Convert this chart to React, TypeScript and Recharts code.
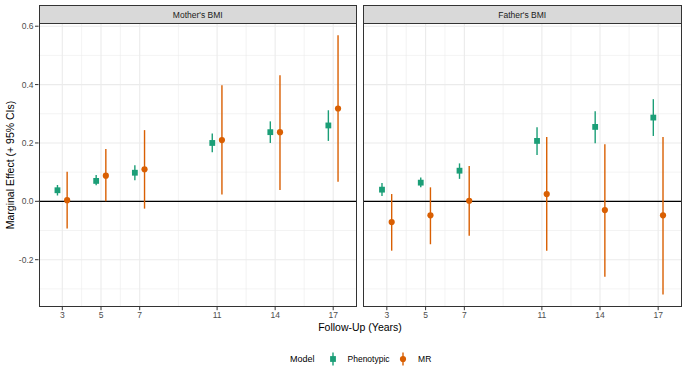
import React from 'react';
import { ScatterChart, Scatter, XAxis, YAxis, CartesianGrid, ReferenceLine, ErrorBar } from 'recharts';

const years = [3, 5, 7, 11, 14, 17];
const motherPhenoEst = [0.038, 0.070, 0.098, 0.200, 0.237, 0.260];
const motherPhenoLow = [0.020, 0.055, 0.072, 0.168, 0.200, 0.207];
const motherPhenoHigh = [0.056, 0.090, 0.124, 0.232, 0.274, 0.312];
const motherMREst = [0.004, 0.088, 0.110, 0.210, 0.237, 0.318];
const motherMRLow = [-0.093, 0.000, -0.025, 0.023, 0.039, 0.067];
const motherMRHigh = [0.101, 0.179, 0.244, 0.398, 0.432, 0.569];
const fatherPhenoEst = [0.040, 0.064, 0.105, 0.207, 0.255, 0.287];
const fatherPhenoLow = [0.018, 0.048, 0.077, 0.159, 0.199, 0.224];
const fatherPhenoHigh = [0.063, 0.082, 0.130, 0.254, 0.309, 0.350];
const fatherMREst = [-0.071, -0.048, 0.002, 0.025, -0.030, -0.048];
const fatherMRLow = [-0.169, -0.147, -0.118, -0.169, -0.258, -0.319];
const fatherMRHigh = [0.025, 0.048, 0.121, 0.220, 0.196, 0.220];

const facets = ["Mother's BMI", "Father's BMI"];
const models = ['Phenotypic', 'MR'];
const yTicks = [-0.2, 0, 0.2, 0.4, 0.6];
const yMinor = [-0.3, -0.1, 0.1, 0.3, 0.5];
const xMinor = [4, 6, 9, 12.5, 15.5];

const GREEN = '#1B9E77';
const ORANGE = '#D95F02';
const FONT = '"Liberation Sans", Arial, Helvetica, sans-serif';
const DODGE = 0.25;
const X_DOMAIN: [number, number] = [1.77, 18.23];
const Y_DOMAIN: [number, number] = [-0.361, 0.611];

function build(est: number[], low: number[], high: number[], offset: number) {
  return years.map((yr, i) => ({
    x: yr + offset,
    y: est[i],
    err: [est[i] - low[i], high[i] - est[i]],
  }));
}

const panels = [
  {
    title: facets[0],
    pheno: build(motherPhenoEst, motherPhenoLow, motherPhenoHigh, -DODGE),
    mr: build(motherMREst, motherMRLow, motherMRHigh, DODGE),
  },
  {
    title: facets[1],
    pheno: build(fatherPhenoEst, fatherPhenoLow, fatherPhenoHigh, -DODGE),
    mr: build(fatherMREst, fatherMRLow, fatherMRHigh, DODGE),
  },
];

const SQ = 5.8;
const R = 3.1;

const Square = (props: any) => {
  const { cx, cy } = props;
  if (cx == null || cy == null) return null;
  return <rect x={cx - SQ / 2} y={cy - SQ / 2} width={SQ} height={SQ} fill={GREEN} />;
};
const Dot = (props: any) => {
  const { cx, cy } = props;
  if (cx == null || cy == null) return null;
  return <circle cx={cx} cy={cy} r={R} fill={ORANGE} />;
};

const PLOT_TOP = 23;
const PLOT_BOTTOM = 306.7;
const CHART_H = 330;
const XAXIS_H = CHART_H - PLOT_BOTTOM;

const layout = [
  { left: 0, width: 357, plotLeft: 38.5, showY: true },
  { left: 362.7, width: 319, plotLeft: 362.7, showY: false },
];

function Panel({ idx }: { idx: number }) {
  const p = panels[idx];
  const l = layout[idx];
  return (
    <div style={{ position: 'absolute', left: l.left, top: 0 }}>
      <ScatterChart width={l.width} height={CHART_H} margin={{ top: PLOT_TOP, right: 0, bottom: 0, left: 0 }}>
        <CartesianGrid stroke="#EBEBEB" strokeWidth={0.6} horizontalValues={yMinor} verticalValues={xMinor} />
        <CartesianGrid stroke="#EBEBEB" strokeWidth={1.1} horizontalValues={yTicks} verticalValues={years} />
        <XAxis
          type="number"
          dataKey="x"
          domain={X_DOMAIN}
          ticks={years}
          allowDataOverflow
          axisLine={false}
          tickSize={3.5}
          tickMargin={1.5}
          height={XAXIS_H}
          tickLine={{ stroke: '#333333' }}
          tick={{ fontSize: 8.5, fill: '#4D4D4D', fontFamily: FONT }}
          interval={0}
        />
        <YAxis
          type="number"
          dataKey="y"
          domain={Y_DOMAIN}
          ticks={yTicks}
          allowDataOverflow
          hide={!l.showY}
          width={38.5}
          axisLine={false}
          tickSize={3.5}
          tickMargin={1.5}
          tickLine={{ stroke: '#333333' }}
          tick={{ fontSize: 8.5, fill: '#4D4D4D', fontFamily: FONT }}
          tickFormatter={(v: number) => v.toFixed(1)}
          interval={0}
        />
        <ReferenceLine y={0} stroke="#000000" strokeWidth={1.1} />
        <Scatter data={p.pheno} shape={Square} isAnimationActive={false} name={models[0]}>
          <ErrorBar dataKey="err" direction="y" width={0} stroke={GREEN} strokeWidth={1.4} />
        </Scatter>
        <Scatter data={p.mr} shape={Dot} isAnimationActive={false} name={models[1]}>
          <ErrorBar dataKey="err" direction="y" width={0} stroke={ORANGE} strokeWidth={1.4} />
        </Scatter>
      </ScatterChart>
      <div
        style={{
          position: 'absolute',
          left: l.plotLeft - l.left,
          top: PLOT_TOP,
          width: l.width - (l.plotLeft - l.left),
          height: PLOT_BOTTOM - PLOT_TOP,
          border: '1px solid #333333',
          boxSizing: 'border-box',
          pointerEvents: 'none',
        }}
      />
      <div
        style={{
          position: 'absolute',
          left: l.plotLeft - l.left,
          top: 5,
          width: l.width - (l.plotLeft - l.left),
          height: PLOT_TOP - 5 + 1,
          border: '1px solid #333333',
          boxSizing: 'border-box',
          background: '#D9D9D9',
          display: 'flex',
          alignItems: 'center',
          justifyContent: 'center',
          fontFamily: FONT,
          fontSize: 8.5,
          color: '#1A1A1A',
        }}
      >
        {p.title}
      </div>
    </div>
  );
}

function LegendGlyph({ color, square }: { color: string; square: boolean }) {
  return (
    <svg width={10} height={16} style={{ display: 'block' }}>
      <line x1={5} x2={5} y1={1.5} y2={14.5} stroke={color} strokeWidth={1.4} />
      {square ? <rect x={5 - SQ / 2} y={8 - SQ / 2} width={SQ} height={SQ} fill={color} /> : <circle cx={5} cy={8} r={R} fill={color} />}
    </svg>
  );
}

export default function App() {
  return (
    <div style={{ position: 'absolute', left: 0, top: 0, width: 687, height: 378, background: '#FFFFFF', fontFamily: FONT }}>
      <Panel idx={0} />
      <Panel idx={1} />
      <div
        style={{
          position: 'absolute',
          left: 260,
          width: 200,
          top: 320,
          textAlign: 'center',
          fontSize: 10.5,
          color: '#000000',
          lineHeight: '14px',
        }}
      >
        Follow-Up (Years)
      </div>
      <div
        style={{
          position: 'absolute',
          left: 10 - 100,
          top: 165 - 7,
          width: 200,
          height: 14,
          lineHeight: '14px',
          textAlign: 'center',
          fontSize: 10.5,
          color: '#000000',
          transform: 'rotate(-90deg)',
          transformOrigin: '100px 7px',
        }}
      >
        Marginal Effect (+ 95% CIs)
      </div>
      <div style={{ position: 'absolute', left: 290, top: 351, height: 16, display: 'flex', alignItems: 'center' }}>
        <span style={{ fontSize: 9, color: '#000000', marginRight: 13 }}>Model</span>
        <LegendGlyph color={GREEN} square />
        <span style={{ fontSize: 8.5, color: '#000000', marginLeft: 10, marginRight: 8.5 }}>{models[0]}</span>
        <LegendGlyph color={ORANGE} square={false} />
        <span style={{ fontSize: 8.5, color: '#000000', marginLeft: 10 }}>{models[1]}</span>
      </div>
    </div>
  );
}
